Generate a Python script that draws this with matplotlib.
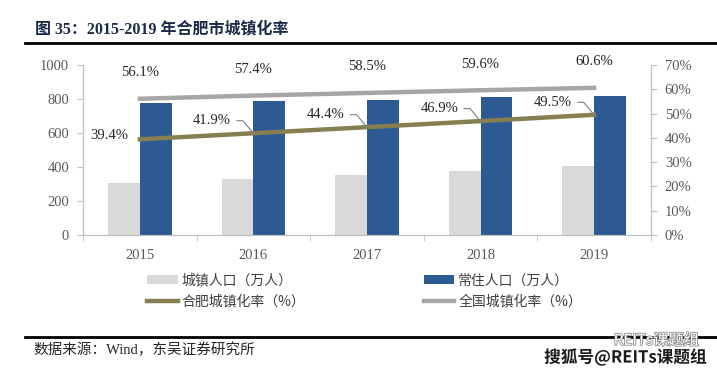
import matplotlib
matplotlib.use('Agg')
import matplotlib.pyplot as plt
import matplotlib.patheffects as pe
import numpy as np

plt.rcParams['font.family'] = ['Liberation Serif', 'Noto Sans CJK SC']

# data
years = ['2015', '2016', '2017', '2018', '2019']
urban_pop = [304, 330, 354, 379, 405]          # 城镇人口（万人）
resident_pop = [779, 787, 797, 809, 819]       # 常住人口（万人）
hefei_rate = [39.4, 41.9, 44.4, 46.9, 49.5]    # 合肥城镇化率（%）
national_rate = [56.1, 57.4, 58.5, 59.6, 60.6] # 全国城镇化率（%）

C_GRAY_BAR = '#d9d9d9'
C_BLUE_BAR = '#2e5a94'
C_OLIVE = '#857f52'
C_GRAY_LINE = '#a6a6a6'
C_TICK = '#595959'
C_AXIS = '#bfbfbf'

fig = plt.figure(figsize=(7.17, 3.74), dpi=100)
ax = fig.add_axes([0.1158, 0.3717, 0.792, 0.4545])
ax2 = ax.twinx()

x = np.arange(len(years))
w = 0.28
b1 = ax.bar(x - w / 2, urban_pop, w, color=C_GRAY_BAR, label='城镇人口（万人）', zorder=2)
b2 = ax.bar(x + w / 2, resident_pop, w, color=C_BLUE_BAR, label='常住人口（万人）', zorder=2)

ax.set_xlim(-0.5, len(years) - 0.5)
ax.set_ylim(0, 1000)
ax.set_yticks(range(0, 1001, 200))
ax.set_xticks(x)
ax.set_xticklabels(years)
ax.set_xticks(np.arange(-0.5, len(years), 1), minor=True)
ax.tick_params(axis='x', which='major', length=0, pad=10, labelsize=10.5, labelcolor=C_TICK)
ax.tick_params(axis='x', which='minor', length=4, color=C_AXIS, direction='out')
ax.tick_params(axis='y', length=4, color=C_AXIS, labelsize=10.5, labelcolor=C_TICK, pad=6)

l1, = ax2.plot(x, hefei_rate, color=C_OLIVE, lw=3.2, label='合肥城镇化率（%）', zorder=3)
l2, = ax2.plot(x, national_rate, color=C_GRAY_LINE, lw=3.2, label='全国城镇化率（%）', zorder=3)
ax2.set_ylim(0, 70)
ax2.set_yticks(range(0, 71, 10))
ax2.set_yticklabels([f'{v}%' for v in range(0, 71, 10)])
ax2.tick_params(axis='y', length=4, color=C_AXIS, labelsize=10.5, labelcolor=C_TICK, pad=6)

for a in (ax, ax2):
    a.spines['top'].set_visible(False)
    for s in ('left', 'right', 'bottom'):
        a.spines[s].set_color(C_AXIS)

# labels on lines
for i, v in enumerate(national_rate):
    ax2.annotate(f'{v}%', (x[i], v), xytext=(0, 14), textcoords='offset points',
                 ha='center', va='bottom', fontsize=10.5, color='#262626')
for i, v in enumerate(hefei_rate):
    if i == 0:
        ax2.annotate(f'{v}%', (x[i], v), xytext=(-8, 3), textcoords='offset points',
                     ha='right', va='center', fontsize=10.5, color='#262626')
    else:
        ax2.annotate(f'{v}%', (x[i], v), xytext=(-16, 9), textcoords='offset points',
                     ha='right', va='center', fontsize=10.5, color='#262626',
                     arrowprops=dict(arrowstyle='-', color='#7f7f7f', lw=0.8,
                                     shrinkA=2, shrinkB=0,
                                     connectionstyle='angle,angleA=0,angleB=-50,rad=0'))

# legend
fig.legend([b1, l1, b2, l2],
           ['城镇人口（万人）', '合肥城镇化率（%）', '常住人口（万人）', '全国城镇化率（%）'],
           ncol=2, loc='upper left', bbox_to_anchor=(0.205, 0.269), frameon=False,
           prop={'family': ['Noto Sans CJK SC'], 'size': 10}, labelcolor='#404040',
           handlelength=2.2, handleheight=0.6, handletextpad=0.3, columnspacing=8.5,
           labelspacing=0.5, borderpad=0, borderaxespad=0)

# title and rules
fig.text(0.049, 0.92, '图 35：2015-2019 年合肥市城镇化率', fontsize=11.5, fontweight='bold',
         color='#1c2a48', ha='left', va='center')
fig.add_artist(plt.Line2D([0.035, 1.0], [0.885, 0.885], color='black', lw=2))
fig.add_artist(plt.Line2D([0.035, 1.0], [0.099, 0.099], color='black', lw=2))
fig.text(0.046, 0.064, '数据来源：Wind，东吴证券研究所', fontsize=10.5, color='#262626',
         ha='left', va='center')

# watermark
fig.text(0.975, 0.09, 'REITs课题组', fontsize=11, color='white', ha='right', va='center',
         family=['Noto Sans CJK SC'],
         path_effects=[pe.withStroke(linewidth=1.2, foreground='#8c8c8c')])
fig.text(0.985, 0.045, '搜狐号@REITs课题组', fontsize=12, color='#1a1a1a', ha='right', va='center',
         family=['Noto Sans CJK SC'], fontweight='bold',
         path_effects=[pe.withStroke(linewidth=2, foreground='white')])

fig.savefig('out.png', dpi=100)
